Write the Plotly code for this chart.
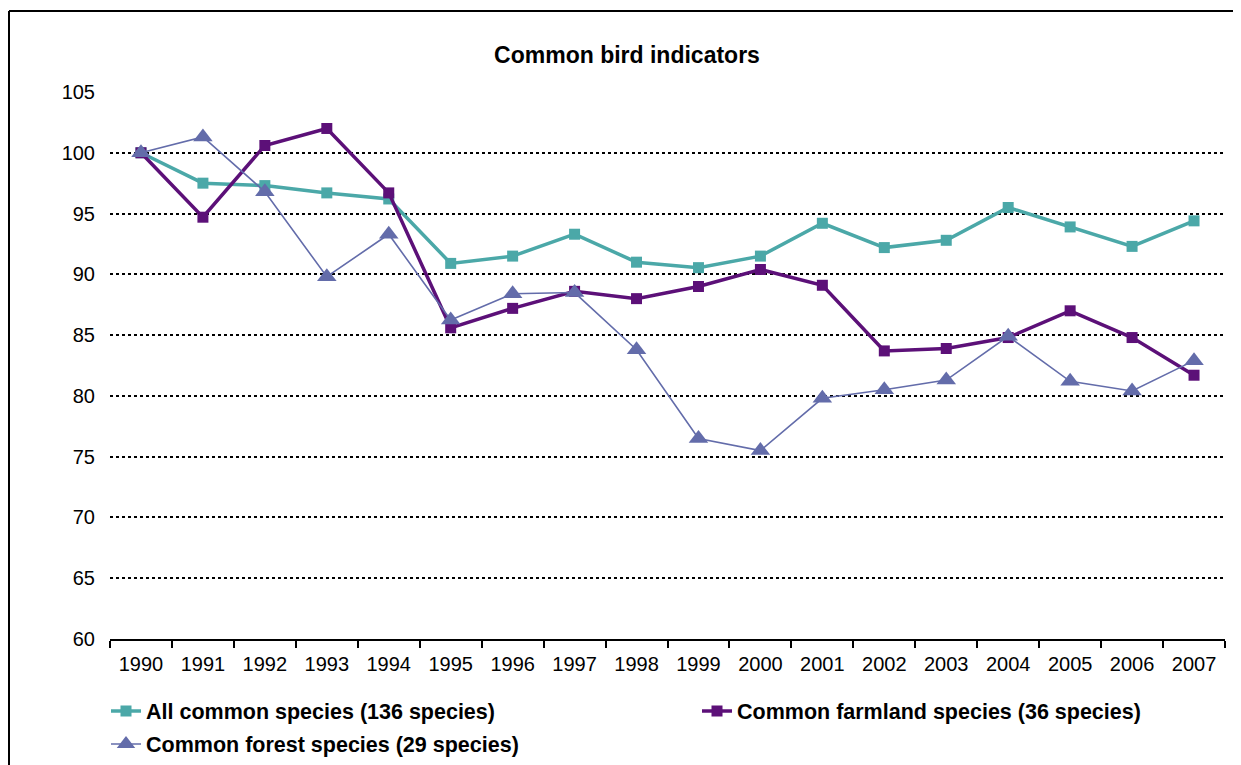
import plotly.graph_objects as go

years = [str(y) for y in range(1990, 2008)]
all_common = [100, 97.5, 97.3, 96.7, 96.2, 90.9, 91.5, 93.3, 91.0, 90.55, 91.5, 94.2,
              92.2, 92.8, 95.5, 93.9, 92.3, 94.4]
farmland = [100, 94.7, 100.6, 102.0, 96.7, 85.6, 87.2, 88.6, 88.0, 89.0, 90.4, 89.1,
            83.7, 83.9, 84.8, 87.0, 84.8, 81.7]
forest = [100, 101.3, 96.8, 89.8, 93.3, 86.25, 88.4, 88.5, 83.8, 76.5, 75.5, 79.8,
          80.5, 81.3, 84.9, 81.2, 80.4, 82.9]

names = ["All common species (136 species)",
         "Common farmland species (36 species)",
         "Common forest species (29 species)"]
y_ticks = list(range(60, 106, 5))

FONT = "Liberation Sans, Arial, sans-serif"
TEAL = "#4BA8A8"
PURPLE = "#5C1078"
FOREST = "#636CAA"

OFF = 8  # page body margin offset of the rendered figure
W, H = 1241 - OFF, 765 - OFF


def cx(px):  # screen x -> container fraction
    return (px - OFF) / W


def cy(py):  # screen y (from top) -> container fraction
    return 1 - (py - OFF) / H


PL, PR, PT, PB = 110, 1225, 92, 639  # plot area on screen
ml, mt = PL - OFF, PT - OFF
mr = W - (PR - OFF)
mb = H - (PB - OFF)
pw, ph = PR - PL, PB - PT

fig = go.Figure()
fig.add_trace(go.Scatter(x=years, y=all_common, name=names[0], mode="lines+markers",
                         line=dict(color=TEAL, width=3.5),
                         marker=dict(symbol="square", size=11, color=TEAL),
                         legend="legend"))
fig.add_trace(go.Scatter(x=years, y=farmland, name=names[1], mode="lines+markers",
                         line=dict(color=PURPLE, width=3.5),
                         marker=dict(symbol="square", size=11, color=PURPLE),
                         legend="legend2"))
fig.add_trace(go.Scatter(x=years, y=forest, name=names[2], mode="lines+markers",
                         line=dict(color=FOREST, width=1.6),
                         marker=dict(symbol="triangle-up", size=17, color=FOREST),
                         legend="legend3"))

legend_common = dict(xref="container", yref="container", xanchor="left", yanchor="middle",
                     bgcolor="rgba(0,0,0,0)", borderwidth=0,
                     font=dict(family=FONT, size=21.5, color="black", weight="bold"))

fig.update_layout(
    width=W, height=H,
    paper_bgcolor="white", plot_bgcolor="white",
    margin=dict(l=ml, r=mr, t=mt, b=mb, autoexpand=False),
    font=dict(family=FONT, size=20, color="black"),
    title=dict(text="<b>Common bird indicators</b>", x=cx(627), xref="container",
               xanchor="center", y=cy(55), yref="container", yanchor="middle",
               font=dict(family=FONT, size=23, color="black")),
    showlegend=True,
    legend=dict(x=cx(106), y=cy(711), **legend_common),
    legend2=dict(x=cx(697), y=cy(711), **legend_common),
    legend3=dict(x=cx(106), y=cy(744), **legend_common),
    xaxis=dict(type="category", showgrid=False, showline=True, linecolor="black",
               linewidth=1.5, ticks="outside", ticklen=7, tickcolor="black", tickwidth=1.5,
               tickson="boundaries", zeroline=False, tickangle=0, ticklabelstandoff=6,
               tickfont=dict(family=FONT, size=20, color="black"),
               range=[-0.5, len(years) - 0.5], fixedrange=True),
    yaxis=dict(range=[60, 105], tickvals=y_ticks, showgrid=True, gridcolor="black",
               gridwidth=2, griddash="dot", showline=False, ticks="", zeroline=False,
               ticklabelstandoff=14,
               tickfont=dict(family=FONT, size=20, color="black"), fixedrange=True),
)

# outer chart frame: left and top edges (right/bottom lie outside the picture)
fx = (9 - PL) / pw
fy = (PB - 11) / ph
fig.add_shape(type="line", xref="paper", yref="paper", x0=fx, x1=1.2, y0=fy, y1=fy,
              line=dict(color="black", width=2), layer="above")
fig.add_shape(type="line", xref="paper", yref="paper", x0=fx, x1=fx, y0=-0.5, y1=fy,
              line=dict(color="black", width=2), layer="above")

fig.write_html("out.html", config={"displayModeBar": False})
